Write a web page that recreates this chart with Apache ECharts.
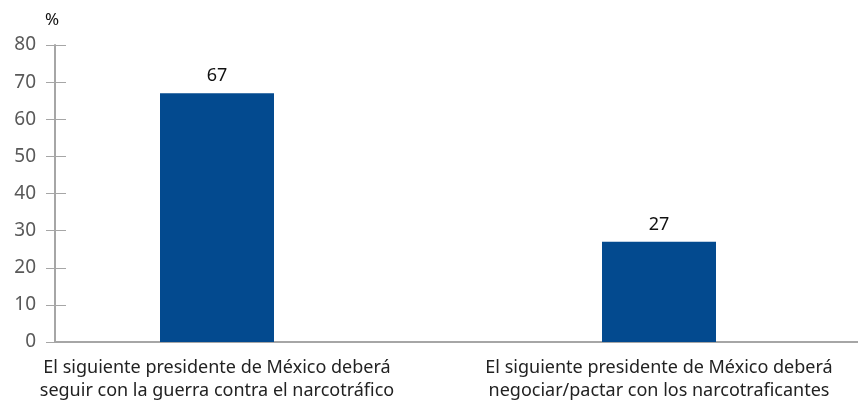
<!DOCTYPE html>
<html>
<head>
<meta charset="utf-8">
<script src="https://cdn.jsdelivr.net/npm/echarts@6/dist/echarts.min.js"></script>
<style>
  html, body { margin: 0; padding: 0; background: #fff; }
  #chart { width: 858px; height: 415px; }
</style>
</head>
<body>
<div id="chart"></div>
<script>
const categories = [
  'El siguiente presidente de México deberá\nseguir con la guerra contra el narcotráfico',
  'El siguiente presidente de México deberá\nnegociar/pactar con los narcotraficantes'
]
const values = [67, 27]
const yTicks = { min: 0, max: 80, step: 10 }

const BAR_COLOR = '#034a8f'
const AXIS_COLOR = '#a6a6a6'
const FONT = '"Noto Sans", sans-serif'

const chart = echarts.init(document.getElementById('chart'))

chart.setOption({
  animation: false,
  // grid 0 draws the visible axes, grid 1 holds the bars (wider, so bar bands line up)
  grid: [
    { left: 55, right: 0, top: 45, bottom: 73, outerBoundsMode: 'none' },
    { left: -4, right: -22, top: 45, bottom: 73, outerBoundsMode: 'none' }
  ],
  xAxis: [
    {
      gridIndex: 0,
      type: 'category',
      data: [''],
      axisLine: { lineStyle: { color: AXIS_COLOR, width: 2 } },
      axisTick: { show: false },
      axisLabel: { show: false }
    },
    {
      gridIndex: 1,
      type: 'category',
      data: categories,
      axisLine: { show: false },
      axisTick: { show: false },
      axisLabel: {
        interval: 0,
        color: '#222',
        fontSize: 18,
        fontFamily: FONT,
        lineHeight: 23,
        margin: 14
      }
    }
  ],
  yAxis: [
    {
      gridIndex: 0,
      type: 'value',
      min: yTicks.min,
      max: yTicks.max,
      interval: yTicks.step,
      name: '%',
      nameGap: 16,
      nameTextStyle: { color: '#111', fontSize: 17, fontFamily: FONT, padding: [0, 6, 0, 0] },
      axisLine: { show: true, lineStyle: { color: AXIS_COLOR, width: 2 } },
      axisTick: { show: true, length: 9, lineStyle: { color: AXIS_COLOR } },
      axisLabel: { color: '#595959', fontSize: 19, fontFamily: FONT, margin: 19 },
      splitLine: { show: false }
    },
    {
      gridIndex: 0,
      type: 'value',
      position: 'left',
      min: yTicks.min,
      max: yTicks.max,
      interval: yTicks.step,
      axisLine: { show: false },
      axisTick: { show: true, inside: true, length: 11, lineStyle: { color: AXIS_COLOR } },
      axisLabel: { show: false },
      splitLine: { show: false }
    },
    {
      gridIndex: 1,
      type: 'value',
      min: yTicks.min,
      max: yTicks.max,
      show: false
    }
  ],
  series: [
    {
      type: 'bar',
      xAxisIndex: 1,
      yAxisIndex: 2,
      data: values,
      barWidth: 114,
      itemStyle: { color: BAR_COLOR },
      label: {
        show: true,
        position: 'top',
        distance: 8,
        color: '#111',
        fontSize: 18,
        fontFamily: FONT
      }
    }
  ]
})
</script>
</body>
</html>
